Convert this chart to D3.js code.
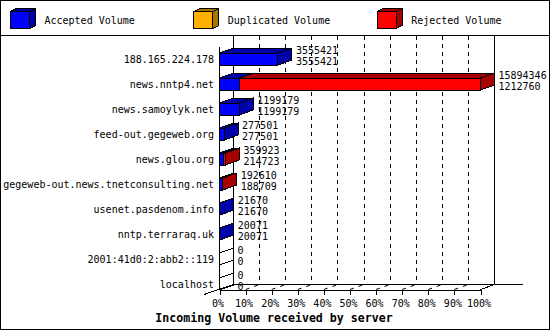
<!DOCTYPE html>
<html><head><meta charset="utf-8">
<script src="https://cdn.jsdelivr.net/npm/d3@7"></script>
<style>
body{margin:0;background:#fff}
svg{display:block}
text{font-family:"DejaVu Sans Mono",monospace;font-size:10px;fill:#000}
</style>
</head><body>
<svg id="c" width="550" height="330" shape-rendering="crispEdges"></svg>
<script>
const categories = ["188.165.224.178","news.nntp4.net","news.samoylyk.net","feed-out.gegeweb.org","news.glou.org","gegeweb-out.news.tnetconsulting.net","usenet.pasdenom.info","nntp.terraraq.uk","2001:41d0:2:abb2::119","localhost"];
const accepted   = [3555421,1212760,1199179,277501,214723,188709,21670,20071,0,0];
const duplicated = [0,0,0,0,0,0,0,0,0,0];
const rejected   = [0,14681586,0,0,145200,3901,0,0,0,0];
const totals     = [3555421,15894346,1199179,277501,359923,192610,21670,20071,0,0];
const seriesNames = ["Accepted Volume","Duplicated Volume","Rejected Volume"];
const percentTicks = [0,10,20,30,40,50,60,70,80,90,100];
const title = "Incoming Volume received by server";

const frontColors = ["#0000ff","#ffb000","#ff0000"];
const darkColors  = ["#0000a8","#a87400","#a80000"];
const series = [accepted, duplicated, rejected];

const svg = d3.select("#c");
const W = 550, H = 330;
const DX = 14, DY = 5;          // bar / plane depth
const floorY = 289.5, topBack = 35.5, frontTop = 46.5;

const x = d3.scaleLinear().domain([0, d3.max(totals)]).range([219.5, 480.5]);
const xp = d3.scaleLinear().domain([0, 100]).range([219.5, 480.5]);
const y = d3.scaleBand().domain(categories).range([46.5, 296.5]).padding(0);
const rowC = c => y(c) + y.bandwidth()/2;
const barH = 12;

svg.append("rect").attr("x",0).attr("y",0).attr("width",W).attr("height",H).attr("fill","#fff");

// legend
const lg = svg.append("g");
seriesNames.forEach((n,j)=>{
  const bx = 10.5 + j*183.33, by = 11.5, bw = 19, bh = 17, ld = 6, lu = 3;
  lg.append("polygon").attr("points",[[bx,by],[bx+ld,by-lu],[bx+bw+ld,by-lu],[bx+bw,by]].join(" "))
    .attr("fill",darkColors[j]).attr("stroke","#000");
  lg.append("polygon").attr("points",[[bx+bw,by],[bx+bw+ld,by-lu],[bx+bw+ld,by+bh-lu],[bx+bw,by+bh]].join(" "))
    .attr("fill",darkColors[j]).attr("stroke","#000");
  lg.append("rect").attr("x",bx).attr("y",by).attr("width",bw).attr("height",bh)
    .attr("fill",frontColors[j]).attr("stroke","#000");
  lg.append("text").attr("x",bx+34).attr("y",24).text(n);
});
svg.append("line").attr("x1",0).attr("x2",W).attr("y1",35.5).attr("y2",35.5).attr("stroke","#000");

// back grid (dashed)
const grid = svg.append("g");
percentTicks.slice(1,-1).forEach(p=>{
  grid.append("line").attr("x1",xp(p)+DX).attr("x2",xp(p)+DX).attr("y1",topBack).attr("y2",floorY-DY)
    .attr("stroke","#000").attr("stroke-dasharray","4,4");
  grid.append("line").attr("x1",xp(p)).attr("y1",floorY).attr("x2",xp(p)+DX).attr("y2",floorY-DY)
    .attr("stroke","#000").attr("stroke-dasharray","4,5").attr("shape-rendering","auto");
});
// walls
const frame = svg.append("g").attr("stroke","#000").attr("fill","none");
frame.append("line").attr("x1",xp(0)+DX).attr("x2",xp(0)+DX).attr("y1",topBack).attr("y2",floorY-DY);
frame.append("line").attr("x1",xp(100)+DX).attr("x2",xp(100)+DX).attr("y1",topBack).attr("y2",floorY-DY);
frame.append("line").attr("x1",xp(0)+DX).attr("x2",523).attr("y1",floorY-DY).attr("y2",floorY-DY);
frame.append("line").attr("x1",204).attr("y1",floorY+5).attr("x2",xp(0)+DX).attr("y2",floorY-DY);
frame.append("line").attr("x1",xp(100)).attr("y1",floorY).attr("x2",xp(100)+DX).attr("y2",floorY-DY);
frame.append("line").attr("x1",xp(0)).attr("x2",xp(0)).attr("y1",frontTop).attr("y2",floorY);

// bars
const bars = svg.append("g");
categories.forEach((c,i)=>{
  const yT = rowC(c) - barH/2, yB = rowC(c) + barH/2;
  let acc = 0, lastJ = -1, x1 = x(0);
  series.forEach((s,j)=>{
    const v = s[i];
    if (v <= 0) return;
    const x0 = x(acc); x1 = x(acc+v); acc += v; lastJ = j;
    bars.append("polygon").attr("points",[[x0,yT],[x0+DX,yT-DY],[x1+DX,yT-DY],[x1,yT]].join(" "))
      .attr("fill",darkColors[j]).attr("stroke","#000");
    bars.append("rect").attr("x",x0).attr("y",yT).attr("width",Math.max(0,x1-x0)).attr("height",barH)
      .attr("fill",frontColors[j]).attr("stroke","#000");
  });
  if (lastJ >= 0) {
    bars.append("polygon").attr("points",[[x1,yT],[x1+DX,yT-DY],[x1+DX,yB-DY],[x1,yB]].join(" "))
      .attr("fill",darkColors[lastJ]).attr("stroke","#000");
  } else {
    [yT,yB].forEach(yy=>bars.append("line").attr("x1",x(0)).attr("y1",yy).attr("x2",x(0)+DX).attr("y2",yy-DY).attr("stroke","#000"));
  }
  const lx = x(totals[i]) + DX + 4;
  bars.append("text").attr("x",lx).attr("y",rowC(c)-5.5).text(totals[i]);
  bars.append("text").attr("x",lx).attr("y",rowC(c)+5.5).text(accepted[i]);
  svg.append("text").attr("x",214).attr("y",rowC(c)+4).attr("text-anchor","end").text(c);
});

// x axis
const ax = svg.append("g").attr("transform",`translate(0,${floorY})`)
  .call(d3.axisBottom(xp).tickValues(percentTicks).tickFormat(d=>d+"%").tickSize(5).tickSizeOuter(0).tickPadding(5.5));
ax.attr("font-family",null).attr("font-size",null);
ax.selectAll("text").attr("dx","-2").style("font-family",'"DejaVu Sans Mono",monospace').style("font-size","10px");
ax.selectAll("path,line").attr("stroke","#000");

svg.append("text").attr("x",274).attr("y",322).attr("text-anchor","middle")
  .style("font-weight","bold").style("font-size","11.6px").text(title);

svg.append("rect").attr("x",0.5).attr("y",0.5).attr("width",W-1).attr("height",H-1).attr("fill","none").attr("stroke","#000");
</script>
</body></html>
